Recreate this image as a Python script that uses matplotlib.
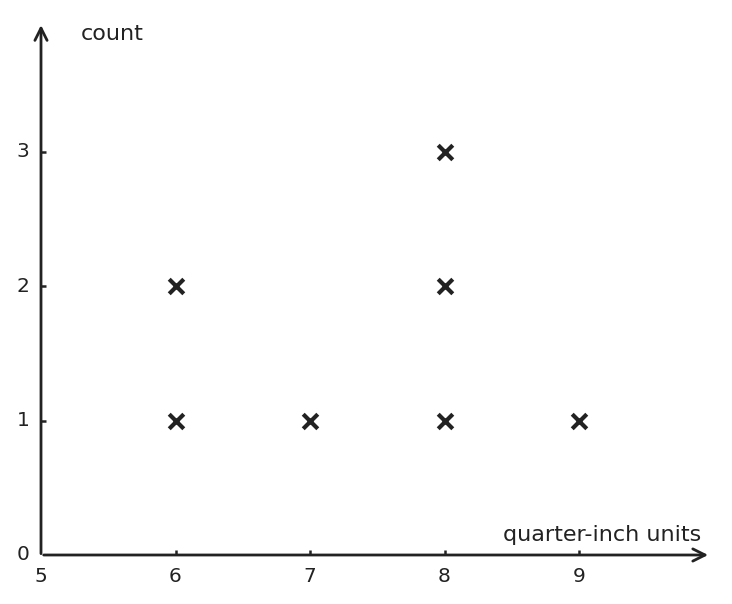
import matplotlib
matplotlib.use("Agg")
import matplotlib.pyplot as plt

# данные: длины в четвертях дюйма, по точке на каждое наблюдение
x_vals = [6, 6, 7, 8, 8, 8, 9]
y_vals = [1, 2, 1, 1, 2, 3, 1]
x_ticks = [5, 6, 7, 8, 9]
y_ticks = [0, 1, 2, 3]
x_label = "quarter-inch units"
y_label = "count"

ink = "#222222"
scale = 134.5  # пикселей на единицу

fig = plt.figure(figsize=(7.32, 6.04), dpi=100)
ax = fig.add_axes([0, 0, 1, 1])
ax.set_xlim(5 - 41 / scale, 5 + (732 - 41) / scale)
ax.set_ylim(-49 / scale, 555 / scale)
ax.axis("off")

# оси со стрелками
ax.annotate("", xy=(9.96, 0), xytext=(5.02, 0),
            arrowprops=dict(arrowstyle="->", color=ink, lw=2.0,
                            mutation_scale=22, shrinkA=0, shrinkB=0))
ax.annotate("", xy=(5, 3.94), xytext=(5, 0.01),
            arrowprops=dict(arrowstyle="->", color=ink, lw=2.0,
                            mutation_scale=22, shrinkA=0, shrinkB=0))

# засечки и подписи
for t in x_ticks:
    if t != 5:
        ax.plot([t, t], [0, 5 / scale], color=ink, lw=1.8, solid_capstyle="butt")
    ax.text(t, -21 / scale, str(t), ha="center", va="center", fontsize=14.5, color=ink)
for t in y_ticks:
    if t != 0:
        ax.plot([5, 5 + 5 / scale], [t, t], color=ink, lw=1.8, solid_capstyle="butt")
    ax.text(5 - 18 / scale, t, str(t), ha="center", va="center", fontsize=14.5, color=ink)

ax.text(5 + 40 / scale, 3.87, y_label, ha="left", va="center", fontsize=16, color=ink)
ax.text(5 + 660 / scale, 20 / scale, x_label, ha="right", va="center", fontsize=16, color=ink)

ax.scatter(x_vals, y_vals, marker="x", s=110, linewidths=3, color=ink, zorder=3)

fig.savefig("out.png", dpi=100)
